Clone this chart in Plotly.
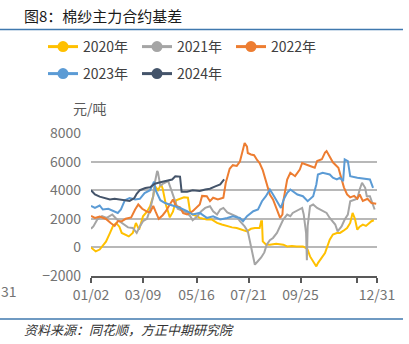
import plotly.graph_objects as go

# ---------------- data (day of year on a common calendar, basis in 元/吨) ----------------
day_2020 = [2, 5, 8, 13, 17, 21, 26, 30, 34, 38, 41, 46, 50, 55, 59, 63, 68, 73, 77, 81, 83, 87, 91, 93,
            97, 102, 106, 110, 115, 120, 125, 128, 131, 137, 140, 149, 155, 162, 168, 175, 181, 187, 194,
            200, 205, 210, 216, 218, 219, 220, 224, 229, 237, 246, 251, 257, 263, 271, 275, 277, 280, 284,
            288, 290, 293, 299, 305, 309, 314, 318, 322, 327, 331, 334, 337, 340, 343, 347, 351, 355, 358, 361]
basis_2020 = [0, -150, -280, -150, 100, 400, 1000, 1500, 1700, 1450, 1010, 900, 770, 1010, 1710, 1240, 2180,
              2500, 2880, 3600, 4300, 4000, 4400, 4100, 3000, 2100, 2500, 3300, 3400, 3500, 3470, 2410, 2300,
              2180, 2060, 1950, 1950, 1710, 1600, 1470, 1400, 1360, 1250, 1120, 1300, 1360, 1360, 1830, 1830,
              420, 200, 190, 250, 190, 70, 100, 70, 70, -50, -160, -630, -1000, -1330, -1100, -860, -390, 540,
              900, 1000, 1010, 1150, 1360, 1710, 2410, 2000, 1240, 1450, 1590, 1500, 1700, 1830, 1900]

day_2021 = [2, 5, 10, 16, 22, 29, 35, 41, 49, 55, 60, 64, 68, 73, 77, 81, 83, 86, 87, 90, 93, 100, 105, 109,
            112, 117, 124, 128, 131, 137, 142, 147, 153, 157, 162, 166, 170, 175, 182, 187, 191, 197, 201,
            204, 206, 210, 214, 218, 222, 225, 229, 233, 238, 242, 246, 251, 255, 258, 265, 270, 272, 275,
            276, 277, 280, 284, 289, 293, 296, 301, 305, 312, 315, 320, 324, 328, 331, 336, 340, 343, 346,
            350, 352, 356, 358, 362]
basis_2021 = [1300, 1470, 1950, 2180, 2060, 2300, 1950, 1710, 1400, 1360, 1010, 1470, 1830, 2000, 2650, 3580,
              4520, 5340, 5250, 4300, 4450, 4630, 3900, 3200, 2700, 2600, 2410, 2180, 1900, 2180, 2530, 2760,
              2880, 2530, 2300, 2650, 2760, 2450, 2300, 2150, 1830, 1470, 1120, 310, -390, -1210, -950, -700,
              -350, 190, 500, 660, 1010, 1470, 1950, 2300, 2180, 2410, 2650, 2760, 2300, 1000, -900, 1500,
              2880, 3000, 2760, 2650, 2530, 2410, 2060, 1600, 1120, 1470, 1950, 2300, 3230, 3350, 3400, 4050,
              4520, 4170, 3580, 3580, 3230, 2650]

day_2022 = [2, 7, 13, 21, 27, 32, 36, 41, 46, 53, 58, 62, 67, 73, 77, 81, 84, 88, 93, 97, 102, 106, 110, 115,
            119, 124, 131, 137, 140, 143, 149, 153, 157, 163, 170, 173, 178, 182, 187, 191, 195, 197, 200,
            201, 205, 209, 213, 216, 220, 225, 229, 233, 238, 242, 245, 246, 251, 255, 261, 267, 270, 276,
            280, 286, 289, 295, 299, 301, 305, 309, 316, 319, 323, 327, 331, 336, 340, 343, 347, 353, 358, 364]
basis_2022 = [2200, 2060, 2150, 1990, 1700, 1500, 1830, 1830, 2000, 2100, 2650, 3000, 2700, 2500, 2450, 2900,
              2500, 2000, 2250, 2530, 3000, 3350, 2900, 2800, 2400, 2300, 2530, 2880, 3000, 3600, 3580, 3230,
              3470, 3350, 3470, 4500, 5500, 5750, 5700, 6000, 6800, 7300, 7050, 6600, 6500, 6450, 6100, 5900,
              5400, 4400, 3700, 3350, 2650, 2060, 2300, 3200, 4750, 5220, 4980, 5450, 5900, 5800, 5690, 5570,
              6040, 6160, 6630, 6740, 6300, 5950, 5570, 4900, 4200, 3700, 3500, 3600, 3400, 3700, 3250, 3400,
              3100, 3050]

day_2023 = [2, 7, 13, 17, 24, 30, 36, 40, 45, 51, 58, 64, 70, 77, 82, 84, 90, 96, 102, 109, 115, 124, 131,
            140, 149, 157, 166, 175, 182, 191, 195, 200, 208, 214, 219, 224, 229, 233, 238, 243, 247, 251,
            255, 264, 271, 277, 284, 288, 290, 296, 305, 309, 314, 318, 322, 324, 328, 331, 340, 347, 356, 360]
basis_2023 = [2900, 2760, 2930, 2650, 2700, 2530, 2410, 2650, 3300, 3450, 3350, 3400, 3800, 4000, 4600, 4000,
              3300, 3100, 3000, 2900, 2760, 2530, 2300, 2410, 2060, 2180, 1950, 2060, 2180, 2060, 1830, 2180,
              2530, 2650, 3230, 3580, 4050, 3700, 3230, 2760, 3400, 3820, 4050, 3700, 3580, 3230, 3580, 4400,
              5100, 5220, 5100, 4870, 4750, 4870, 4630, 6160, 6040, 4980, 4870, 4800, 4750, 4170]

day_2024 = [2, 7, 13, 20, 26, 32, 39, 45, 51, 57, 60, 64, 71, 77, 83, 90, 97, 105, 109, 115, 117, 124, 131,
            140, 147, 153, 159, 166, 171]
basis_2024 = [4000, 3700, 3550, 3450, 3350, 3400, 3350, 3300, 3250, 3450, 3750, 4000, 4150, 4200, 4450, 4550,
              4650, 4750, 4980, 4950, 3900, 3900, 4000, 3950, 4050, 4100, 4250, 4400, 4750]

series_names = ["2020年", "2021年", "2022年", "2023年", "2024年"]
series_days = [day_2020, day_2021, day_2022, day_2023, day_2024]
series_vals = [basis_2020, basis_2021, basis_2022, basis_2023, basis_2024]
series_colors = ["#FFC000", "#A5A5A5", "#ED7D31", "#5B9BD5", "#44546A"]

tick_days = [2, 68, 136, 202, 268, 340, 365]
tick_text = ["01/02", "03/09", "05/16", "07/21", "09/25", "", "12/31"]
y_ticks = [-2000, 0, 2000, 4000, 6000, 8000]

title_text = "图8：棉纱主力合约基差"
source_text = "资料来源：同花顺，方正中期研究院"
unit_text = "元/吨"
edge_label = "31"

# ---------------- layout helpers ----------------
W, H = 409, 344
L, R, T, B = 91, 32, 133, 68
PW, PH = W - L - R, H - T - B


def px(xp):
    return (xp - L) / PW


def py(yp):
    return (H - B - yp) / PH


FONT = "Noto Sans CJK SC, Noto Sans, sans-serif"

fig = go.Figure()
for name, d, v, c in zip(series_names, series_days, series_vals, series_colors):
    fig.add_trace(go.Scatter(x=d, y=v, mode="lines", line=dict(color=c, width=2),
                             showlegend=False, hoverinfo="skip"))

# legend entries (two rows)
for i, (name, c) in enumerate(zip(series_names, series_colors)):
    fig.add_trace(go.Scatter(x=[None], y=[None], mode="lines+markers", name=name,
                             line=dict(color=c, width=3), marker=dict(color=c, size=11),
                             legend="legend" if i < 3 else "legend2"))

leg_common = dict(orientation="h", xanchor="left", yanchor="middle",
                  font=dict(family=FONT, size=14, color="#404040"),
                  entrywidth=49, entrywidthmode="pixels", bgcolor="rgba(0,0,0,0)",
                  borderwidth=0, itemwidth=30, tracegroupgap=0)

fig.update_layout(
    width=W, height=H,
    margin=dict(l=L, r=R, t=T, b=B, pad=0),
    paper_bgcolor="white", plot_bgcolor="white",
    font=dict(family=FONT),
    legend=dict(x=px(43), y=py(47), **leg_common),
    legend2=dict(x=px(43), y=py(74), **leg_common),
    xaxis=dict(range=[2, 365], tickmode="array", tickvals=tick_days, ticktext=tick_text,
               showgrid=False, zeroline=False, showline=True, linecolor="#595959", linewidth=1.5,
               ticks="outside", ticklen=5, tickcolor="#595959", tickwidth=1.5,
               tickfont=dict(family=FONT, size=14, color="#737373")),
    yaxis=dict(range=[-2000, 8000], tickmode="array", tickvals=y_ticks,
               showgrid=True, gridcolor="#B8B8B8", gridwidth=1.5, zeroline=False,
               showline=False, ticks="", ticklabelstandoff=9,
               tickfont=dict(family=FONT, size=14, color="#737373")),
)

fig.add_annotation(text=title_text, xref="paper", yref="paper", x=px(22), y=py(15),
                   xanchor="left", yanchor="middle", showarrow=False,
                   font=dict(family=FONT, size=15, color="#1a1a1a"))
fig.add_annotation(text=source_text, xref="paper", yref="paper", x=px(22), y=py(329),
                   xanchor="left", yanchor="middle", showarrow=False,
                   font=dict(family=FONT, size=13, color="#333333", style="italic"))
fig.add_annotation(text=unit_text, xref="paper", yref="paper", x=px(90), y=py(108),
                   xanchor="center", yanchor="middle", showarrow=False,
                   font=dict(family=FONT, size=14, color="#595959"))
fig.add_annotation(text=edge_label, xref="paper", yref="paper", x=px(0), y=py(291),
                   xanchor="left", yanchor="middle", showarrow=False, borderpad=0,
                   font=dict(family=FONT, size=14, color="#737373"))

for yline in (29.5, 319):
    fig.add_shape(type="line", xref="paper", yref="paper", x0=px(0), x1=px(403),
                  y0=py(yline), y1=py(yline), line=dict(color="#3F78AE", width=1.5))

fig.write_html("out.html")
